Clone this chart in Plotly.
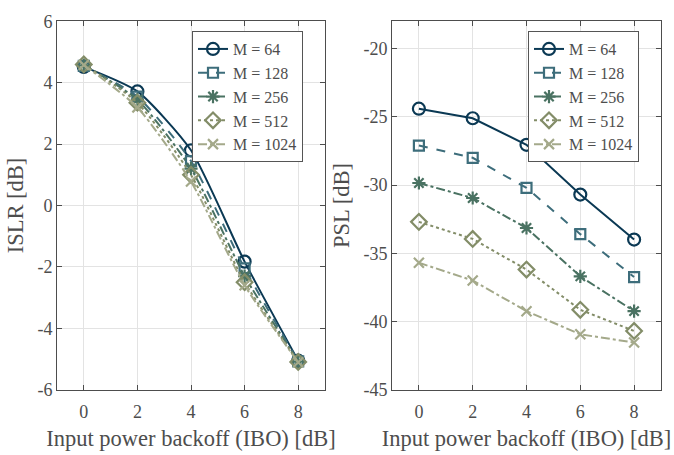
import plotly.graph_objects as go

ibo = [0, 2, 4, 6, 8]
labels = ["M = 64", "M = 128", "M = 256", "M = 512", "M = 1024"]

islr_m64 = [4.52, 3.72, 1.80, -1.83, -5.06]
islr_m128 = [4.55, 3.55, 1.45, -2.05, -5.08]
islr_m256 = [4.57, 3.45, 1.20, -2.30, -5.09]
islr_m512 = [4.60, 3.35, 1.00, -2.50, -5.10]
islr_m1024 = [4.58, 3.20, 0.78, -2.60, -5.11]

psl_m64 = [-24.4, -25.1, -27.05, -30.7, -34.0]
psl_m128 = [-27.1, -28.0, -30.2, -33.6, -36.75]
psl_m256 = [-29.85, -30.95, -33.15, -36.7, -39.25]
psl_m512 = [-32.7, -33.95, -36.2, -39.15, -40.7]
psl_m1024 = [-35.7, -37.0, -39.25, -40.95, -41.55]

x_ticks = [0, 2, 4, 6, 8]
islr_ticks = [-6, -4, -2, 0, 2, 4, 6]
psl_ticks = [-45, -40, -35, -30, -25, -20]

islr = [islr_m64, islr_m128, islr_m256, islr_m512, islr_m1024]
psl = [psl_m64, psl_m128, psl_m256, psl_m512, psl_m1024]

colors = ["#0b3954", "#3d6d7b", "#4a7262", "#838d68", "#a4a98a"]
dashes = ["solid", "dash", "dashdot", "dot", "dashdot"]
symbols = ["circle-open", "square-open", "asterisk-open", "diamond-open", "x-thin-open"]
msizes = [12, 10, 11, 12, 10]

FONT = "Liberation Serif"
TXT = "#4d4d4d"

fig = go.Figure()
for i in range(5):
    fig.add_trace(go.Scatter(
        x=ibo, y=islr[i], name=labels[i], mode="lines+markers",
        line=dict(color=colors[i], width=2, dash=dashes[i], shape="spline", smoothing=0.6),
        marker=dict(symbol=symbols[i], size=msizes[i], color=colors[i],
                    line=dict(width=2.2, color=colors[i])),
        xaxis="x", yaxis="y", legend="legend"))
for i in range(5):
    fig.add_trace(go.Scatter(
        x=ibo, y=psl[i], name=labels[i], mode="lines+markers",
        line=dict(color=colors[i], width=2, dash=dashes[i]),
        marker=dict(symbol=symbols[i], size=msizes[i], color=colors[i],
                    line=dict(width=2.2, color=colors[i])),
        xaxis="x2", yaxis="y2", legend="legend2"))

axis_common = dict(
    showgrid=True, gridcolor="#e3e3e3", gridwidth=1,
    showline=True, linecolor="#4d4d4d", linewidth=1, mirror="ticks",
    ticks="inside", ticklen=5, tickcolor="#4d4d4d",
    tickfont=dict(family=FONT, size=18, color=TXT),
    zeroline=False,
)
title_font = dict(family=FONT, size=22.5, color=TXT)

fig.update_layout(
    width=674, height=455,
    margin=dict(l=0, r=0, t=0, b=0),
    paper_bgcolor="white", plot_bgcolor="white",
    font=dict(family=FONT, color=TXT),
    xaxis=dict(domain=[57/674, 325/674], range=[-1, 9], tickmode="array",
               tickvals=x_ticks, ticktext=[str(v) for v in x_ticks],
               ticklabelstandoff=6,
               title=dict(text="Input power backoff (IBO) [dB]", font=title_font, standoff=9),
               anchor="y", **axis_common),
    yaxis=dict(domain=[1-397/455, 1-12/455], range=[-6, 6], tickmode="array",
               tickvals=islr_ticks, ticktext=[str(v) for v in islr_ticks],
               title=dict(text="ISLR [dB]", font=title_font, standoff=7),
               anchor="x", **axis_common),
    xaxis2=dict(domain=[392/674, 661/674], range=[-1, 9], tickmode="array",
                tickvals=x_ticks, ticktext=[str(v) for v in x_ticks],
                ticklabelstandoff=6,
                title=dict(text="Input power backoff (IBO) [dB]", font=title_font, standoff=9),
                anchor="y2", **axis_common),
    yaxis2=dict(domain=[1-397/455, 1-12/455], range=[-45, -18], tickmode="array",
                tickvals=psl_ticks, ticktext=[str(v) for v in psl_ticks],
                title=dict(text="PSL [dB]", font=title_font, standoff=7),
                anchor="x2", **axis_common),
    legend=dict(x=192/674, y=1-22/455, xanchor="left", yanchor="top",
                bgcolor="white", bordercolor="#555555", borderwidth=1,
                font=dict(family=FONT, size=16, color=TXT), tracegroupgap=0,
                itemwidth=30),
    legend2=dict(x=528/674, y=1-22/455, xanchor="left", yanchor="top",
                 bgcolor="white", bordercolor="#555555", borderwidth=1,
                 font=dict(family=FONT, size=16, color=TXT), tracegroupgap=0,
                 itemwidth=30),
)

fig.write_html("out.html")
